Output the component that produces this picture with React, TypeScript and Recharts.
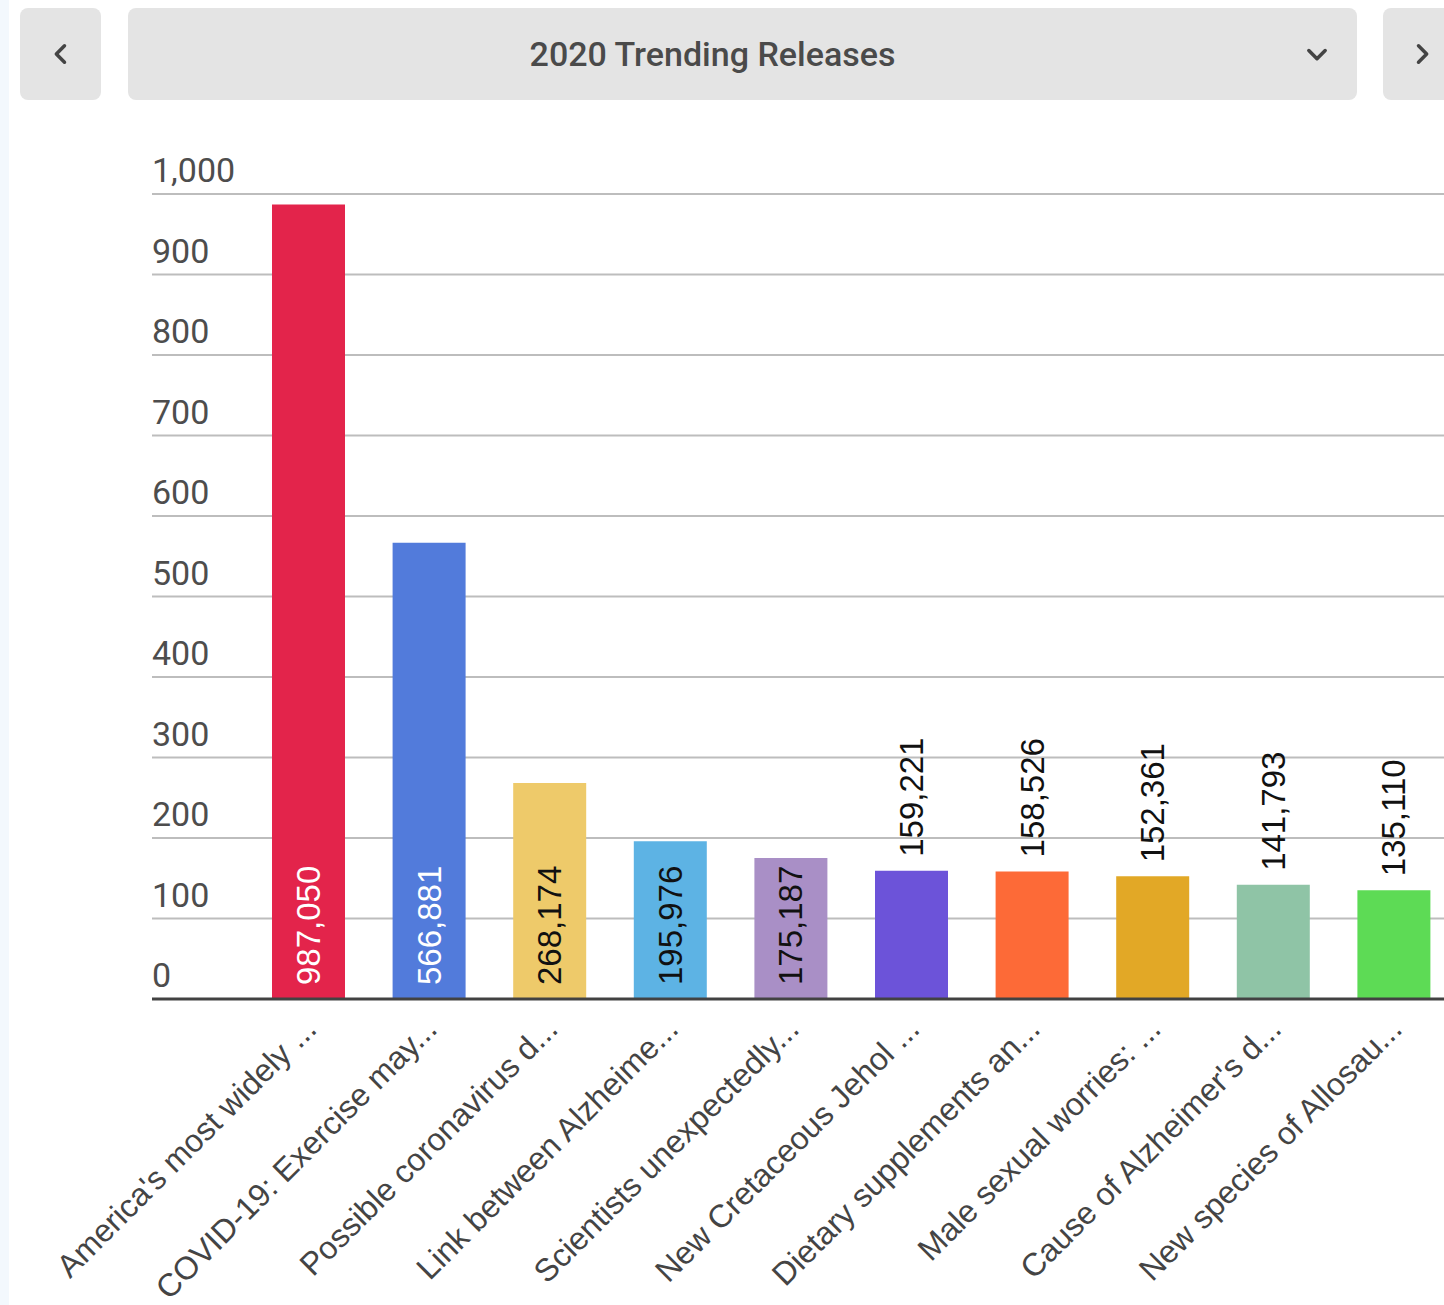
import { BarChart, Bar, XAxis, YAxis, CartesianGrid, Cell, LabelList } from "recharts"

const titles = [
  "America's most widely ...",
  "COVID-19: Exercise may...",
  "Possible coronavirus d...",
  "Link between Alzheime...",
  "Scientists unexpectedly...",
  "New Cretaceous Jehol ...",
  "Dietary supplements an...",
  "Male sexual worries: ...",
  "Cause of Alzheimer's d...",
  "New species of Allosau...",
]

const views = [987050, 566881, 268174, 195976, 175187, 159221, 158526, 152361, 141793, 135110]

const barColors = [
  "#e3244b", "#527bdb", "#eeca6a", "#5db3e4", "#a98fc6",
  "#6c53d9", "#fd6a37", "#e2a826", "#8fc4a6", "#5ddb55",
]

const yTicks = [0, 100000, 200000, 300000, 400000, 500000, 600000, 700000, 800000, 900000, 1000000]

const data = titles.map((title, i) => ({ title, value: views[i], color: barColors[i] }))

const ROBOTO = "Roboto, 'Noto Sans', sans-serif"
const ARIAL = "'Liberation Sans', Arial, sans-serif"
const fmt = (v: number) => v.toLocaleString("en-US")

// dark text on light bars, white on dark ones
const isDark = (hex: string) => {
  const r = parseInt(hex.slice(1, 3), 16)
  const g = parseInt(hex.slice(3, 5), 16)
  const b = parseInt(hex.slice(5, 7), 16)
  return 0.299 * r + 0.587 * g + 0.114 * b < 140
}

// tick labels sit just above their gridline, left aligned with the plot
function YTick({ x, y, payload }: any) {
  return (
    <text x={x} y={y - 12} textAnchor="start" fontFamily={ROBOTO} fontSize={34} fill="#4d4d4d">
      {fmt(payload.value / 1000)}
    </text>
  )
}

function XTick({ x, y, payload }: any) {
  const ax = x + 10
  const ay = y + 24
  return (
    <text
      x={ax}
      y={ay}
      transform={`rotate(-45, ${ax}, ${ay})`}
      textAnchor="end"
      fontFamily={ARIAL}
      fontSize={32}
      fill="#444"
    >
      {payload.value}
    </text>
  )
}

function ValueLabel({ x, y, width, height, value, index }: any) {
  const cx = x + width / 2
  const inside = height > 135
  const ay = inside ? y + height - 14 : y - 14
  const fill = inside && isDark(barColors[index]) ? "#ffffff" : "#111111"
  return (
    <text
      x={cx}
      y={ay}
      transform={`rotate(-90, ${cx}, ${ay})`}
      textAnchor="start"
      dominantBaseline="central"
      fontFamily={ARIAL}
      fontSize={33}
      fill={fill}
    >
      {fmt(value)}
    </text>
  )
}

function Chevron({ d }: { d: string }) {
  return (
    <svg width={28} height={28} viewBox="0 0 24 24" style={{ display: "block" }}>
      <path d={d} fill="none" stroke="#444" strokeWidth={3} strokeLinecap="round" strokeLinejoin="round" />
    </svg>
  )
}

const btn: React.CSSProperties = {
  position: "absolute",
  top: 8,
  height: 92,
  background: "#e4e4e4",
  borderRadius: 8,
  display: "flex",
  alignItems: "center",
  justifyContent: "center",
}

export default function App() {
  return (
    <div style={{ position: "absolute", left: 0, top: 0, width: 1444, height: 1305, overflow: "hidden", background: "#fff" }}>
      <div style={{ position: "absolute", left: 0, top: 0, width: 9, height: 1305, background: "#f3f8fd" }} />

      <div style={{ ...btn, left: 20, width: 81 }}>
        <Chevron d="M15 5 L8 12 L15 19" />
      </div>
      <div style={{ ...btn, left: 128, width: 1229 }}>
        <span
          style={{
            position: "absolute",
            left: 0,
            width: 1169,
            textAlign: "center",
            fontFamily: ROBOTO,
            fontWeight: 500,
            fontSize: 34,
            color: "#4a4a4a",
          }}
        >
          2020 Trending Releases
        </span>
        <div style={{ position: "absolute", left: 1175 }}>
          <Chevron d="M5 9 L12 16 L19 9" />
        </div>
      </div>
      <div style={{ ...btn, left: 1383, width: 90, justifyContent: "flex-start", paddingLeft: 25 }}>
        <Chevron d="M9 5 L16 12 L9 19" />
      </div>

      <div style={{ position: "absolute", left: 0, top: 0 }}>
        <BarChart width={1470} height={1305} data={data} margin={{ top: 194, right: 8, left: 0, bottom: 0 }}>
          <CartesianGrid horizontal vertical={false} stroke="#bdbdbd" strokeWidth={2} />
          <YAxis
            width={152}
            domain={[0, 1000000]}
            ticks={yTicks}
            interval={0}
            axisLine={false}
            tickLine={false}
            tickSize={0}
            tickMargin={0}
            tick={<YTick />}
          />
          <XAxis
            dataKey="title"
            height={306}
            interval={0}
            padding={{ left: 96, right: 8 }}
            axisLine={{ stroke: "#424242", strokeWidth: 3 }}
            tickLine={false}
            tick={<XTick />}
          />
          <Bar dataKey="value" barSize={73} isAnimationActive={false}>
            {data.map((d) => (
              <Cell key={d.title} fill={d.color} />
            ))}
            <LabelList dataKey="value" content={<ValueLabel />} />
          </Bar>
        </BarChart>
      </div>
    </div>
  )
}
